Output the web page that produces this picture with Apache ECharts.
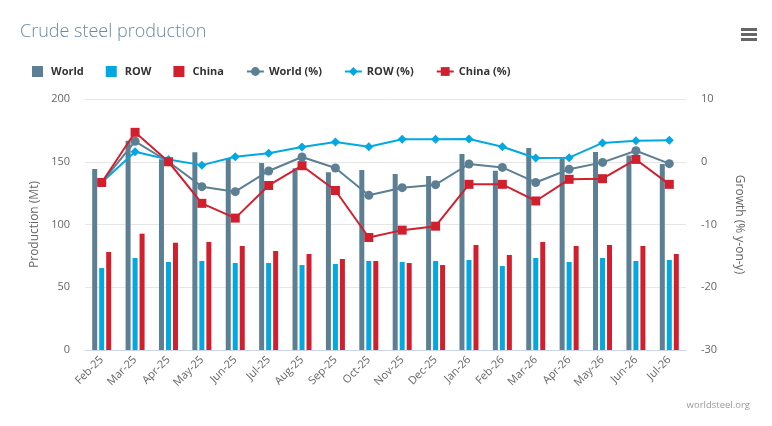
<!DOCTYPE html>
<html>
<head>
<meta charset="utf-8">
<script src="https://cdn.jsdelivr.net/npm/echarts@6/dist/echarts.min.js"></script>
<style>html,body{margin:0;padding:0;background:#fff;}#c{width:772px;height:426px;}</style>
</head>
<body>
<div id="c"></div>
<script>
var categories = ['Feb-25','Mar-25','Apr-25','May-25','Jun-25','Jul-25','Aug-25','Sep-25','Oct-25','Nov-25','Dec-25','Jan-26','Feb-26','Mar-26','Apr-26','May-26','Jun-26','Jul-26'];
var world = [144.2, 166.8, 152, 157.6, 152.5, 149, 144.8, 141.7, 143.4, 140.2, 138.6, 156.2, 142.9, 161, 152.5, 157.8, 155, 148.2];
var row = [65.3, 73.3, 70.1, 70.9, 69.3, 69.3, 67.7, 68.5, 70.9, 70.1, 70.9, 71.7, 66.9, 73.3, 70.1, 73.3, 70.9, 71.7];
var china = [78.1, 92.7, 85.5, 86.1, 82.9, 78.9, 76.5, 72.5, 70.9, 69.3, 67.7, 83.7, 75.7, 86.1, 82.9, 83.7, 82.9, 76.5];
var worldPct = [-3.3, 3.26, 0.0, -3.97, -4.77, -1.47, 0.76, -1.0, -5.35, -4.13, -3.65, -0.36, -0.9, -3.3, -1.2, -0.1, 1.76, -0.3];
var rowPct = [-3.3, 1.6, 0.37, -0.54, 0.8, 1.35, 2.35, 3.15, 2.4, 3.57, 3.57, 3.62, 2.4, 0.6, 0.65, 3.0, 3.36, 3.41];
var chinaPct = [-3.3, 4.69, 0.0, -6.63, -8.98, -3.78, -0.63, -4.58, -12.07, -10.9, -10.27, -3.6, -3.6, -6.25, -2.8, -2.7, 0.37, -3.6];
var leftTicks = {min: 0, max: 200, interval: 50};
var rightTicks = {min: -30, max: 10, interval: 10};

var cWorld = '#5d7f93', cRow = '#02a8e2', cChina = '#d21f2e';
var sq = 'path://M0,0L10,0L10,10L0,10Z';

var chart = echarts.init(document.getElementById('c'), null, {renderer: 'canvas'});
var font = '"Open Sans", "DejaVu Sans", sans-serif';
chart.setOption({
  animation: false,
  textStyle: {fontFamily: font},
  title: [
    {text: 'Crude steel production', left: 15, top: 18,
     textStyle: {fontFamily: font, fontWeight: 300, fontSize: 18, color: '#6a8a9e'}},
    {text: 'worldsteel.org', right: 17, bottom: 11,
     textStyle: {fontFamily: font, fontWeight: 'normal', fontSize: 9.5, color: '#999'}}
  ],
  graphic: [
    {type: 'group', right: 15, top: 28, children: [
      {type: 'rect', shape: {x: 0, y: 0, width: 16, height: 3}, style: {fill: '#666'}},
      {type: 'rect', shape: {x: 0, y: 5, width: 16, height: 3}, style: {fill: '#666'}},
      {type: 'rect', shape: {x: 0, y: 10, width: 16, height: 3}, style: {fill: '#666'}}
    ]}
  ],
  legend: {
    left: 27, top: 61,
    itemWidth: 17, itemHeight: 11, itemGap: 22,
    textStyle: {fontFamily: font, fontWeight: 'bold', fontSize: 11, color: '#333'},
    data: [
      {name: 'World', icon: sq},
      {name: 'ROW', icon: sq},
      {name: 'China', icon: sq},
      {name: 'World (%)'},
      {name: 'ROW (%)'},
      {name: 'China (%)'}
    ]
  },
  grid: {left: 85, right: 86, top: 99, bottom: 76, containLabel: false},
  xAxis: {
    type: 'category', data: categories,
    axisLine: {lineStyle: {color: '#ccd6eb'}},
    axisTick: {show: false},
    axisLabel: {rotate: 45, fontSize: 11, color: '#666', margin: 8, interval: 0}
  },
  yAxis: [
    {type: 'value', min: leftTicks.min, max: leftTicks.max, interval: leftTicks.interval,
     name: 'Production (Mt)', nameLocation: 'middle', nameGap: 43,
     nameTextStyle: {fontSize: 12, color: '#666'},
     axisLabel: {fontSize: 11, color: '#666', margin: 15},
     axisLine: {show: false}, axisTick: {show: false},
     splitLine: {lineStyle: {color: '#e6e6e6'}}},
    {type: 'value', min: rightTicks.min, max: rightTicks.max, interval: rightTicks.interval,
     name: 'Growth (% y-on-y)', nameLocation: 'middle', nameGap: 47, nameRotate: -90,
     nameTextStyle: {fontSize: 12, color: '#666'},
     axisLabel: {fontSize: 11, color: '#666', margin: 15},
     axisLine: {show: false}, axisTick: {show: false},
     splitLine: {show: false}}
  ],
  series: [
    {name: 'World', type: 'bar', data: world, barWidth: 5, barGap: '40%', itemStyle: {color: cWorld}},
    {name: 'ROW', type: 'bar', data: row, barWidth: 5, barGap: '40%', itemStyle: {color: cRow}},
    {name: 'China', type: 'bar', data: china, barWidth: 5, barGap: '40%', itemStyle: {color: cChina}},
    {name: 'World (%)', type: 'line', yAxisIndex: 1, data: worldPct, symbol: 'circle', symbolSize: 9,
     lineStyle: {width: 2, color: cWorld}, itemStyle: {color: cWorld}, z: 5},
    {name: 'ROW (%)', type: 'line', yAxisIndex: 1, data: rowPct, symbol: 'diamond', symbolSize: 9,
     lineStyle: {width: 2, color: cRow}, itemStyle: {color: cRow}, z: 5},
    {name: 'China (%)', type: 'line', yAxisIndex: 1, data: chinaPct, symbol: 'rect', symbolSize: 9,
     lineStyle: {width: 2, color: cChina}, itemStyle: {color: cChina}, z: 6}
  ]
});
</script>
</body>
</html>
